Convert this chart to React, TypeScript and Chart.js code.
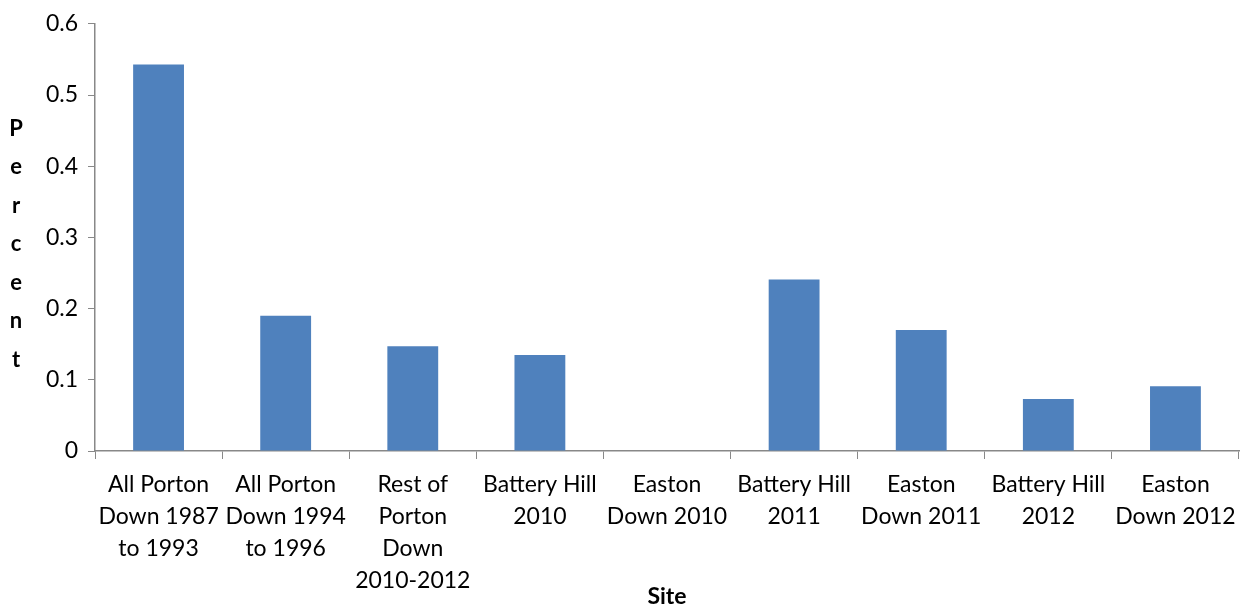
import React, { useEffect, useRef } from "react";
import { Chart, registerables } from "chart.js";

Chart.register(...registerables);

const categories: string[][] = [
  ["All Porton", "Down 1987", "to 1993"],
  ["All Porton", "Down 1994", "to 1996"],
  ["Rest of", "Porton", "Down", "2010-2012"],
  ["Battery Hill", "2010"],
  ["Easton", "Down 2010"],
  ["Battery Hill", "2011"],
  ["Easton", "Down 2011"],
  ["Battery Hill", "2012"],
  ["Easton", "Down 2012"],
];
const percentValues: number[] = [0.543, 0.19, 0.147, 0.135, 0, 0.241, 0.17, 0.073, 0.091];
const yTickLabels: string[] = ["0", "0.1", "0.2", "0.3", "0.4", "0.5", "0.6"];
const yTitleLetters: string[] = ["P", "e", "r", "c", "e", "n", "t"];
const xTitle = "Site";

const FONT = "Lato";

const verticalTitlePlugin = {
  id: "verticalTitle",
  afterDraw(chart: any) {
    const { ctx, chartArea } = chart;
    const spacing = 38.5;
    const cy = (chartArea.top + chartArea.bottom) / 2 + 7;
    const start = cy - ((yTitleLetters.length - 1) * spacing) / 2;
    ctx.save();
    ctx.font = `bold 22px ${FONT}`;
    ctx.fillStyle = "#000";
    ctx.textAlign = "center";
    ctx.textBaseline = "middle";
    yTitleLetters.forEach((ch, i) => {
      ctx.fillText(ch, 16, start + i * spacing);
    });
    ctx.restore();
  },
};

export default function App() {
  const ref = useRef<HTMLCanvasElement | null>(null);
  useEffect(() => {
    if (!ref.current) return;
    const chart = new Chart(ref.current, {
      type: "bar",
      data: {
        labels: categories,
        datasets: [
          {
            data: percentValues,
            backgroundColor: "#4F81BD",
            borderWidth: 0,
            categoryPercentage: 1,
            barPercentage: 0.4,
          },
        ],
      },
      options: {
        animation: false,
        responsive: true,
        maintainAspectRatio: false,
        layout: { padding: { left: 0, right: 11, top: 12, bottom: 0 } },
        plugins: { legend: { display: false }, tooltip: { enabled: false } },
        scales: {
          x: {
            grid: {
              drawOnChartArea: false,
              drawTicks: true,
              tickLength: 8,
              color: "#888",
              offset: true,
            },
            border: { color: "#888", width: 1.5 },
            ticks: {
              color: "#000",
              font: { family: FONT, size: 23, lineHeight: 1.4 },
              maxRotation: 0,
              autoSkip: false,
              padding: 9,
            },
            title: {
              display: true,
              text: xTitle,
              color: "#000",
              font: { family: FONT, size: 23, weight: "bold" },
              padding: { top: 0, bottom: 0 },
            },
            afterFit(scale: any) {
              scale.height = 159;
            },
          },
          y: {
            min: 0,
            max: 0.6,
            grid: {
              drawOnChartArea: false,
              drawTicks: true,
              tickLength: 7,
              color: "#888",
            },
            border: { color: "#888", width: 1.5 },
            ticks: {
              stepSize: 0.1,
              color: "#000",
              font: { family: FONT, size: 23 },
              padding: 10,
              callback: (_v: any, i: number) => yTickLabels[i],
            },
            afterFit(scale: any) {
              scale.width = 95;
            },
          },
        },
      },
      plugins: [verticalTitlePlugin],
    });
    return () => chart.destroy();
  }, []);
  return (
    <div style={{ position: "fixed", left: 0, top: 0, width: 1250, height: 610, background: "#fff" }}>
      <canvas ref={ref} />
    </div>
  );
}
